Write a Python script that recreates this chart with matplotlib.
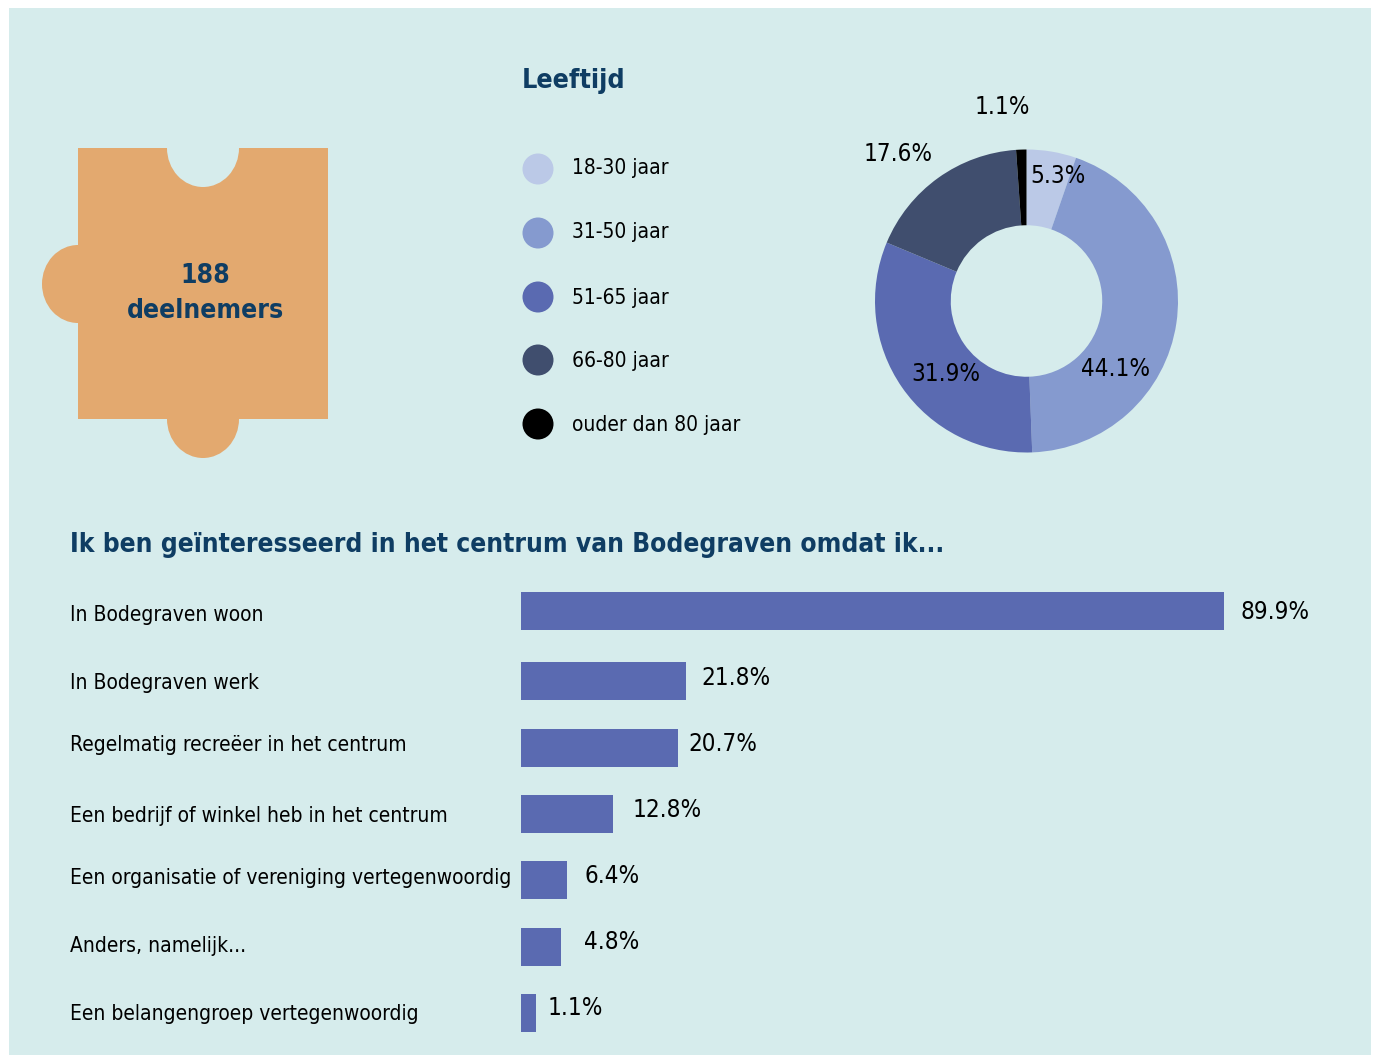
import matplotlib
matplotlib.use("Agg")
from matplotlib import pyplot as plt
from matplotlib.patches import Rectangle, Ellipse, Circle

W, H = 1376, 1055

# data
age_labels = ["18-30 jaar", "31-50 jaar", "51-65 jaar", "66-80 jaar", "ouder dan 80 jaar"]
age_values = [5.3, 44.1, 31.9, 17.6, 1.1]
age_colors = ["#BBC9E7", "#859ACF", "#5A6AB1", "#404E6E", "#000000"]

reasons = ["In Bodegraven woon", "In Bodegraven werk", "Regelmatig recreëer in het centrum",
           "Een bedrijf of winkel heb in het centrum", "Een organisatie of vereniging vertegenwoordig",
           "Anders, namelijk...", "Een belangengroep vertegenwoordig"]
reason_labels = [89.9, 21.8, 20.7, 12.8, 6.4, 4.8, 1.1]
# drawn length of the bars, they do not follow the labels exactly
bar_lengths = [89.9, 21.1, 20.1, 11.8, 5.9, 5.1, 1.9]

BG = "#D6ECEC"
ORANGE = "#E3A96F"
NAVY = "#0F3D63"
BAR = "#5A6AB1"
plt.rcParams["font.family"] = "DejaVu Sans"
plt.rcParams["font.stretch"] = "condensed"

fig = plt.figure(figsize=(W / 100, H / 100), dpi=100, facecolor="white")

# pixel canvas for panel, puzzle piece and text
ax = fig.add_axes([0, 0, 1, 1])
ax.set_xlim(0, W)
ax.set_ylim(H, 0)
ax.axis("off")
ax.add_patch(Rectangle((9, 8), 1362, 1047, fc=BG, ec="none", zorder=0))

# puzzle piece
ax.add_patch(Ellipse((78, 284), 72, 78, fc=ORANGE, ec="none", zorder=1))
ax.add_patch(Ellipse((203, 419), 72, 78, fc=ORANGE, ec="none", zorder=1))
ax.add_patch(Rectangle((78, 148), 250, 271, fc=ORANGE, ec="none", zorder=2))
ax.add_patch(Ellipse((203, 148), 72, 78, fc=BG, ec="none", zorder=3))
ax.add_patch(Rectangle((160, 130), 86, 18, fc=BG, ec="none", zorder=3))
ax.text(205, 276, "188", color=NAVY, fontsize=19, fontweight="bold", ha="center", va="center", zorder=4)
ax.text(205, 311, "deelnemers", color=NAVY, fontsize=19, fontweight="bold", ha="center", va="center", zorder=4)

# legend of the donut
ax.text(522, 81, "Leeftijd", color=NAVY, fontsize=19.3, fontweight="bold", va="center")
legend_y = [169, 233, 297, 360, 424]
legend_text_y = [168, 232, 298, 361, 425]
for lab, col, y, ty in zip(age_labels, age_colors, legend_y, legend_text_y):
    ax.add_patch(Circle((538, y), 15.5, fc=col, ec="none"))
    ax.text(572, ty, lab, color="black", fontsize=15, va="center")

# donut
cx, cy, R = 1026.5, 301, 151.5
ax_pie = fig.add_axes([(cx - R) / W, 1 - (cy + R) / H, 2 * R / W, 2 * R / H])
ax_pie.pie(age_values, colors=age_colors, startangle=90, counterclock=False, radius=1,
           wedgeprops=dict(width=0.5, edgecolor="none"))
ax_pie.set_xlim(-1, 1)
ax_pie.set_ylim(-1, 1)
ax_pie.patch.set_alpha(0)

pie_text_x = [1058, 1116, 946, 898, 1002]
pie_text_y = [176, 369, 374, 154, 107]
ax_top = fig.add_axes([0, 0, 1, 1])
ax_top.set_xlim(0, W)
ax_top.set_ylim(H, 0)
ax_top.axis("off")
for v, x, y in zip(age_values, pie_text_x, pie_text_y):
    ax_top.text(x, y, f"{v}%", color="black", fontsize=17.4, ha="center", va="center")

# bars
ax_top.text(70, 545, "Ik ben geïnteresseerd in het centrum van Bodegraven omdat ik...",
            color=NAVY, fontsize=18.95, fontweight="bold", va="center")

bar_y = [611, 681, 748, 814, 880, 947, 1013]
bar_x0 = 521
px_per_pct = 703 / 89.9
ax_bar = fig.add_axes([bar_x0 / W, 0, (W - bar_x0) / W, 1])
ax_bar.set_xlim(0, (W - bar_x0) / px_per_pct)
ax_bar.set_ylim(H, 0)
ax_bar.axis("off")
ax_bar.barh(bar_y, bar_lengths, height=38, color=BAR)

reason_y = [615, 683, 745, 816, 878, 946, 1014]
value_x = [1240, 701, 688, 633, 584, 584, 548]
value_y = [612, 678, 744, 810, 876, 942, 1008]
for r, y in zip(reasons, reason_y):
    ax_top.text(70, y, r, color="black", fontsize=15, va="center")
for v, x, y in zip(reason_labels, value_x, value_y):
    ax_top.text(x, y, f"{v}%", color="black", fontsize=17.4, va="center")

fig.savefig("out.png", dpi=100, facecolor="white")
